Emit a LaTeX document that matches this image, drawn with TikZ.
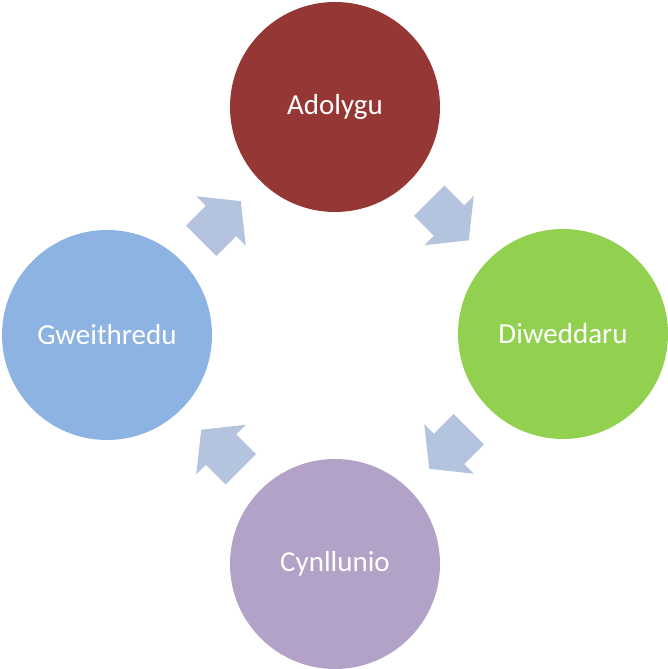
\documentclass[tikz,border=0pt]{standalone}
\usepackage{fontspec}
\setmainfont{Carlito}
\usetikzlibrary{calc}
\definecolor{cred}{HTML}{953735}
\definecolor{cgreen}{HTML}{92D050}
\definecolor{cpurple}{HTML}{B2A2C7}
\definecolor{cblue}{HTML}{8DB3E2}
\definecolor{carrow}{HTML}{B4C4DF}
\begin{document}
\begin{tikzpicture}[x=1pt,y=1pt,
  stage/.style={circle,minimum size=210pt,inner sep=0pt,text=white,
    font=\fontsize{29}{35}\selectfont},
  blockarrow/.pic={\fill[carrow] (-28,-21.5) -- (0,-21.5) -- (0,-35) -- (28,0) -- (0,35) -- (0,21.5) -- (-28,21.5) -- cycle;}]
\useasboundingbox (0,0) rectangle (668,669);
\node[stage,fill=cred]    (top)    at (335,562) {Adolygu};
\node[stage,fill=cgreen]  (right)  at (563,335) {Diweddaru};
\node[stage,fill=cpurple] (bottom) at (335,105) {Cynllunio};
\node[stage,fill=cblue]   (left)   at (107,334) {Gweithredu};
\pic[rotate=45]   at ($(left)!0.5!(top)$)     {blockarrow};
\pic[rotate=-45]  at ($(top)!0.5!(right)$)    {blockarrow};
\pic[rotate=-135] at ($(right)!0.5!(bottom)$) {blockarrow};
\pic[rotate=135]  at ($(bottom)!0.5!(left)$)  {blockarrow};
\end{tikzpicture}
\end{document}
